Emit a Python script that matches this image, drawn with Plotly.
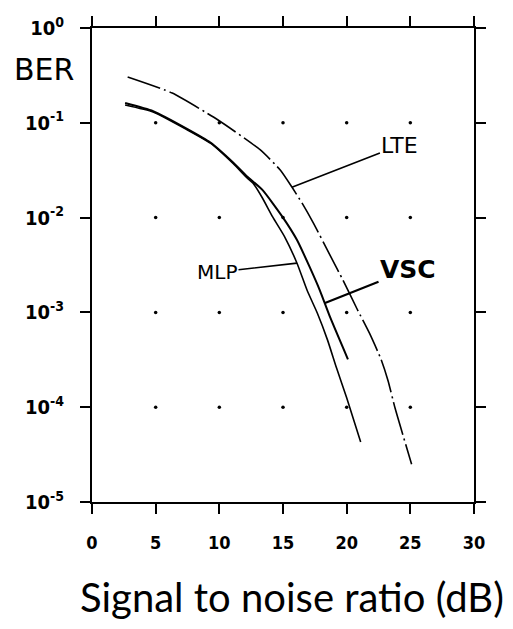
import plotly.graph_objects as go

# ---- data ----
snr_mlp = [2.6, 4.8, 7.5, 9.3, 11.1, 12.2, 12.65, 13.35, 14.2, 15.15, 16.1, 16.9, 17.7, 18.5, 19.2, 20.0, 21.1]
ber_mlp = [0.154, 0.13, 0.084, 0.061, 0.037, 0.026, 0.0231, 0.0164, 0.0101, 0.0062, 0.0033,
           0.0017, 9.8e-4, 5.1e-4, 2.6e-4, 1.26e-4, 4.3e-5]

snr_vsc = [2.6, 4.8, 7.5, 9.3, 11.1, 12.2, 13.4, 15.0, 16.1, 17.1, 17.9, 18.7, 20.1]
ber_vsc = [0.162, 0.133, 0.086, 0.062, 0.038, 0.027, 0.0195, 0.0100, 0.0058, 0.0030,
           0.0017, 8.9e-4, 3.2e-4]

snr_lte = [2.8, 6.3, 9.9, 13.2, 14.8, 15.7, 16.5, 17.4, 18.7, 19.7, 20.8, 21.8, 22.7, 23.25, 23.8, 25.1]
ber_lte = [0.304, 0.206, 0.107, 0.052, 0.0316, 0.021, 0.0142, 0.0087, 0.0040, 0.0022, 0.0011,
           6.0e-4, 3.2e-4, 1.9e-4, 9.8e-5, 2.5e-5]

x_ticks = [0, 5, 10, 15, 20, 25, 30]
y_ticks = [1, 1e-1, 1e-2, 1e-3, 1e-4, 1e-5]
y_ticktext = ["10<sup>0</sup>", "10<sup>-1</sup>", "10<sup>-2</sup>",
              "10<sup>-3</sup>", "10<sup>-4</sup>", "10<sup>-5</sup>"]
grid_x = [5, 10, 15, 20, 25]
grid_y = [1e-1, 1e-2, 1e-3, 1e-4]

# ---- figure ----
fig = go.Figure()

# grid dots at tick intersections
gx = [x for y in grid_y for x in grid_x]
gy = [y for y in grid_y for x in grid_x]
fig.add_trace(go.Scatter(x=gx, y=gy, mode="markers",
                         marker=dict(color="black", size=3.5), hoverinfo="skip"))

fig.add_trace(go.Scatter(x=snr_lte, y=ber_lte, mode="lines", name="LTE",
                         line=dict(color="black", width=1.6, dash="34px,4px,2px,4px",
                                   shape="spline", smoothing=0.5)))
fig.add_trace(go.Scatter(x=snr_mlp, y=ber_mlp, mode="lines", name="MLP",
                         line=dict(color="black", width=1.6, shape="spline", smoothing=0.5)))
fig.add_trace(go.Scatter(x=snr_vsc, y=ber_vsc, mode="lines", name="VSC",
                         line=dict(color="black", width=2.0, shape="spline", smoothing=0.5)))

fontc = "DejaVu Sans Condensed, DejaVu Sans, sans-serif"

axis_common = dict(showline=True, linecolor="black", linewidth=2, mirror="ticks",
                   ticks="outside", ticklen=10, tickwidth=2, tickcolor="black",
                   showgrid=False, zeroline=False, automargin=False)

fig.update_xaxes(range=[0, 30], tickvals=x_ticks,
                 tickfont=dict(family=fontc, size=18, color="black", weight="bold"),
                 ticklabelstandoff=13, **axis_common)
fig.update_yaxes(type="log", range=[-5, 0], tickvals=y_ticks, ticktext=y_ticktext,
                 tickfont=dict(family=fontc, size=20, color="black", weight="bold"),
                 ticklabelstandoff=12, **axis_common)

annots = [
    dict(x=0.524, y=-0.2, xref="paper", yref="paper", text="Signal to noise ratio (dB)",
         showarrow=False, font=dict(family="Lato, sans-serif", size=40, color="black"),
         xanchor="center", yanchor="middle"),
    dict(x=-0.125, y=0.912, xref="paper", yref="paper", text="BER",
         showarrow=False, font=dict(family="DejaVu Sans, sans-serif", size=30, color="black"),
         xanchor="center", yanchor="middle"),
    dict(x=15.7, y=-1.68, xref="x", yref="y", text="LTE", showarrow=True, arrowhead=0,
         arrowwidth=1.6, arrowcolor="black", ax=108, ay=-42, standoff=0,
         font=dict(family="DejaVu Sans, sans-serif", size=22, color="black")),
    dict(x=16.1, y=-2.48, xref="x", yref="y", text="MLP", showarrow=True, arrowhead=0,
         arrowwidth=1.6, arrowcolor="black", ax=-80, ay=9, standoff=0,
         font=dict(family="DejaVu Sans, sans-serif", size=20, color="black")),
    dict(x=18.3, y=-2.9, xref="x", yref="y", text="<b>VSC</b>", showarrow=True, arrowhead=0,
         arrowwidth=2.2, arrowcolor="black", ax=83, ay=-33, standoff=0,
         font=dict(family="DejaVu Sans, sans-serif", size=25, color="black")),
]

fig.update_layout(width=513, height=629, showlegend=False,
                  margin=dict(l=92, r=39, t=28, b=127),
                  paper_bgcolor="white", plot_bgcolor="white",
                  annotations=annots)

fig.write_html("out.html")
